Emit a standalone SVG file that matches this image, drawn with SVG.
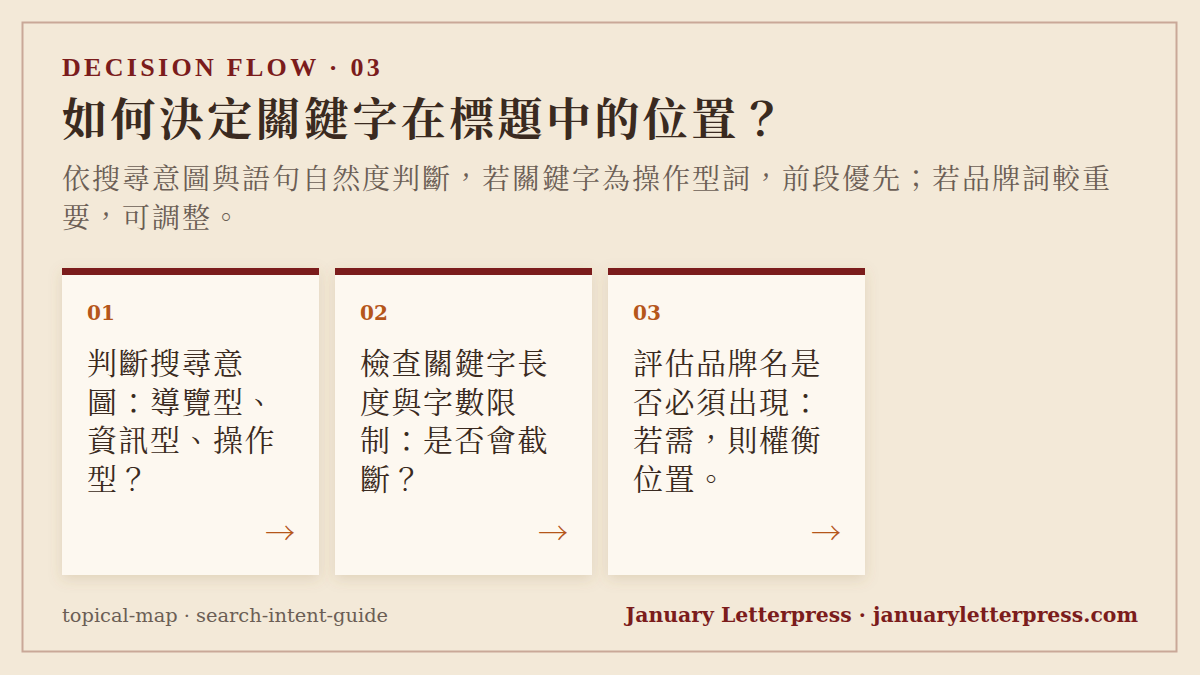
<svg xmlns="http://www.w3.org/2000/svg" width="1200" height="675" viewBox="0 0 1200 675">
<defs>
<filter id="sh" x="-20%" y="-20%" width="140%" height="140%">
<feDropShadow dx="0" dy="4" stdDeviation="7" flood-color="#8a6a40" flood-opacity="0.18"/>
</filter>
<style>
.serif{font-family:"DejaVu Serif","Liberation Serif",serif}
.cjk{font-family:"Noto Serif CJK TC","Liberation Serif","Noto Sans CJK TC",serif}
.card{fill:#FDF8F0}
.bar{fill:#7B1C1C}
.num{font-family:"DejaVu Serif","Liberation Serif",serif;font-weight:bold;font-size:20px;fill:#B5561A}
.body{font-family:"Noto Serif CJK TC","Liberation Serif","Noto Sans CJK TC",serif;font-size:30px;fill:#3A2A20;letter-spacing:1.5px}
.arr{font-family:"Noto Serif CJK TC","Noto Sans CJK TC",serif;font-size:30px;fill:#B5561A}
</style>
</defs>
<rect width="1200" height="675" fill="#F3E9D8"/>
<rect x="22.5" y="22.5" width="1154" height="629" fill="none" stroke="#C9A898" stroke-width="2"/>
<g id="header">
<text x="62" y="76" font-family="Liberation Serif, serif" font-size="26" font-weight="bold" fill="#7B1C1C" letter-spacing="3.3">DECISION FLOW · 03</text>
<text x="62" y="136" class="cjk" font-size="45" font-weight="bold" fill="#3A2A20" letter-spacing="3.4">如何決定關鍵字在標題中的位置？</text>
<text class="cjk" font-size="28" fill="#6B5E55" letter-spacing="2.0"><tspan x="62" y="189">依搜尋意圖與語句自然度判斷，若關鍵字為操作型詞，前段優先；若品牌詞較重</tspan><tspan x="62" y="228">要，可調整。</tspan></text>
</g>
<g id="card1">
<rect x="62" y="268" width="257" height="307" class="card" filter="url(#sh)"/>
<rect x="62" y="268" width="257" height="7" class="bar"/>
<text x="87" y="320" class="num">01</text>
<text class="body"><tspan x="87" y="374">判斷搜尋意</tspan><tspan x="87" y="412.5">圖：導覽型、</tspan><tspan x="87" y="451">資訊型、操作</tspan><tspan x="87" y="489.5">型？</tspan></text>
<text x="295" y="544" class="arr" text-anchor="end">→</text>
</g>
<g id="card2">
<rect x="335" y="268" width="257" height="307" class="card" filter="url(#sh)"/>
<rect x="335" y="268" width="257" height="7" class="bar"/>
<text x="360" y="320" class="num">02</text>
<text class="body"><tspan x="360" y="374">檢查關鍵字長</tspan><tspan x="360" y="412.5">度與字數限</tspan><tspan x="360" y="451">制：是否會截</tspan><tspan x="360" y="489.5">斷？</tspan></text>
<text x="568" y="544" class="arr" text-anchor="end">→</text>
</g>
<g id="card3">
<rect x="608" y="268" width="257" height="307" class="card" filter="url(#sh)"/>
<rect x="608" y="268" width="257" height="7" class="bar"/>
<text x="633" y="320" class="num">03</text>
<text class="body"><tspan x="633" y="374">評估品牌名是</tspan><tspan x="633" y="412.5">否必須出現：</tspan><tspan x="633" y="451">若需，則權衡</tspan><tspan x="633" y="489.5">位置。</tspan></text>
<text x="841" y="544" class="arr" text-anchor="end">→</text>
</g>
<g id="connectors"></g>
<g id="footer">
<text x="62" y="622" class="serif" font-size="19.4" fill="#6B5E55">topical-map · search-intent-guide</text>
<text x="1138" y="622" class="serif" font-size="20.4" font-weight="bold" fill="#7B1C1C" text-anchor="end">January Letterpress · januaryletterpress.com</text>
</g>
</svg>
